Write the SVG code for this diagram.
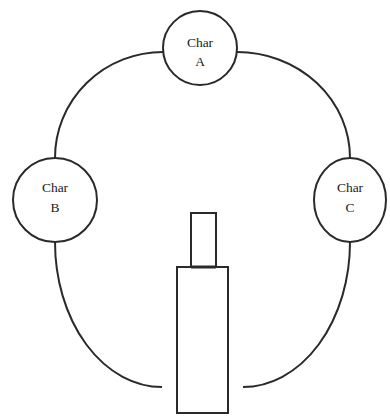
<svg xmlns="http://www.w3.org/2000/svg" width="390" height="417" viewBox="0 0 390 417">
  <style>
    .node { fill: #fff; stroke: #2a2a2a; stroke-width: 2; }
    .link { fill: none; stroke: #2a2a2a; stroke-width: 2; }
    .label { font-family: "Liberation Serif", "Times New Roman", serif; font-size: 13.5px; fill: #222; text-anchor: middle; }
  </style>
  <rect width="390" height="417" fill="#fff"/>
  <g id="connectors">
    <path class="link" d="M163,52 A108,106 0 0 0 55,158"/>
    <path class="link" d="M237,52 A113,106 0 0 1 350,158"/>
    <path class="link" d="M55,242 A107,145 0 0 0 162,387"/>
    <path class="link" d="M350,242 A107,145 0 0 1 243,387"/>
  </g>
  <g id="char-a">
    <circle class="node" cx="200" cy="48" r="37"/>
    <text class="label" x="200" y="47">Char</text>
    <text class="label" x="200" y="66">A</text>
  </g>
  <g id="char-b">
    <ellipse class="node" cx="55" cy="200" rx="42" ry="42"/>
    <text class="label" x="55" y="192">Char</text>
    <text class="label" x="55" y="212">B</text>
  </g>
  <g id="char-c">
    <ellipse class="node" cx="350" cy="200" rx="36" ry="42"/>
    <text class="label" x="350" y="192">Char</text>
    <text class="label" x="350" y="212">C</text>
  </g>
  <g id="bottle">
    <rect class="node" x="191" y="213" width="25" height="54"/>
    <rect class="node" x="177" y="267" width="51" height="146"/>
    <line x1="191" y1="267" x2="216" y2="267" stroke="#2a2a2a" stroke-width="3"/>
  </g>
</svg>
